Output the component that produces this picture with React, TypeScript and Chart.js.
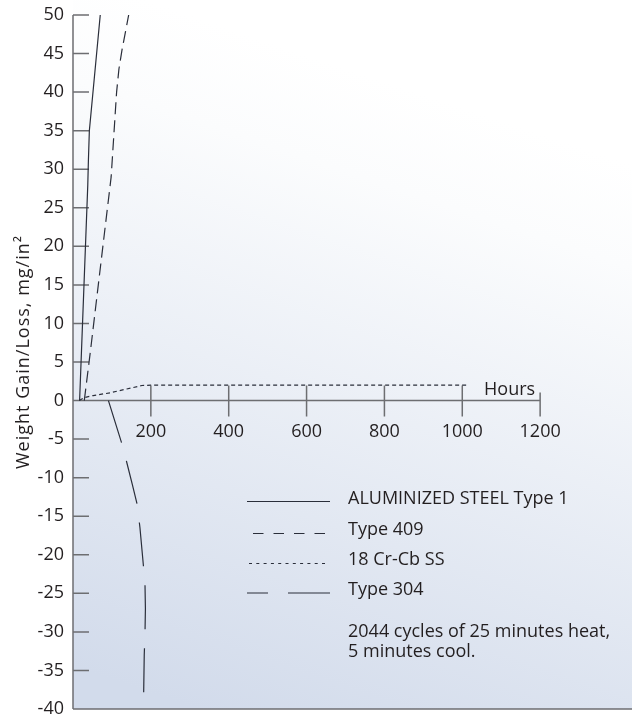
import { useEffect, useRef } from 'react';
import { Chart, registerables } from 'chart.js';

Chart.register(...registerables);

// ---- data (hours, weight change mg/in²) ----
const alumHours = [17, 38, 39.5, 42, 70];
const alumValues = [0, 28, 31, 35, 50];

const t409Hours = [29, 45, 65, 85, 98, 105, 112, 118, 126, 143];
const t409Values = [0, 6.5, 15, 23.5, 29, 34.5, 40, 43, 45.5, 50];

const crHours = [16, 30, 52, 95, 138, 177, 200, 1015];
const crValues = [0, 0.4, 0.65, 1.0, 1.5, 1.95, 2.0, 2.0];

const t304Hours = [91, 125, 138, 152, 165, 172, 181, 185, 186, 185, 183, 181.5];
const t304Values = [0, -5.5, -8, -10.8, -13.5, -16.5, -21.5, -24, -27, -30, -33, -38];

const seriesNames = ['ALUMINIZED STEEL Type 1', 'Type 409', '18 Cr-Cb SS', 'Type 304'];
const noteLines = ['2044 cycles of 25 minutes heat,', '5 minutes cool.'];

const xTickValues = [200, 400, 600, 800, 1000, 1200];
const yMin = -40;
const yMax = 50;
const yStep = 5;
const xMax = 1436;

const yTitle = 'Weight Gain/Loss, mg/in²';
const xTitle = 'Hours';

const FONT = "'Open Sans', 'Noto Sans', sans-serif";
const TEXT = '#231f20';
const AXIS = '#6d6e71';
const LINE = '#2a2e3a';

const pts = (xs: number[], ys: number[]) => xs.map((x, i) => ({ x, y: ys[i] }));

const customPlugin = {
  id: 'custom',
  beforeDraw(chart: any) {
    const { ctx, chartArea } = chart;
    const { left, right, top, bottom } = chartArea;
    ctx.save();
    const g = ctx.createLinearGradient(470, 110, 260, 730);
    g.addColorStop(0, '#ffffff');
    g.addColorStop(0.15, '#fbfcfd');
    g.addColorStop(1, '#d2dbeb');
    ctx.fillStyle = g;
    ctx.fillRect(left, top - 15, right - left, bottom - top + 15);
    ctx.restore();
  },
  beforeDatasetsDraw(chart: any) {
    const { ctx, chartArea, scales } = chart;
    const xs = scales.x;
    const ys = scales.y;
    const y0 = ys.getPixelForValue(0);
    const x0 = xs.getPixelForValue(0);
    ctx.save();
    ctx.strokeStyle = AXIS;
    ctx.lineWidth = 1.5;
    ctx.beginPath();
    ctx.moveTo(chartArea.left, chartArea.top);
    ctx.lineTo(chartArea.left, chartArea.bottom);
    ctx.moveTo(chartArea.left, chartArea.bottom);
    ctx.lineTo(chartArea.right, chartArea.bottom);
    ctx.moveTo(x0, y0);
    ctx.lineTo(xs.getPixelForValue(1200), y0);
    ys.ticks.forEach((t: any) => {
      const py = ys.getPixelForValue(t.value);
      ctx.moveTo(chartArea.left, py);
      ctx.lineTo(chartArea.left + 16, py);
    });
    xs.ticks.forEach((t: any) => {
      const px = xs.getPixelForValue(t.value);
      const up = t.value === 1200 ? 8 : 15;
      ctx.moveTo(px, y0 - up);
      ctx.lineTo(px, y0 + 16);
    });
    ctx.stroke();
    ctx.restore();
  },
  afterDraw(chart: any) {
    const { ctx, scales } = chart;
    const xs = scales.x;
    const ys = scales.y;
    ctx.save();
    ctx.fillStyle = TEXT;
    ctx.font = `18px ${FONT}`;
    ctx.textAlign = 'right';
    ctx.textBaseline = 'alphabetic';
    ctx.fillText(xTitle, xs.getPixelForValue(1200) - 5, ys.getPixelForValue(0) - 6);

    ctx.save();
    ctx.translate(29, 352);
    ctx.rotate(-Math.PI / 2);
    ctx.textAlign = 'center';
    try { (ctx as any).letterSpacing = '1px'; } catch (e) {}
    ctx.fillText(yTitle, 0, 0);
    ctx.restore();

    const lx0 = 247;
    const lx1 = 330;
    const tx = 348;
    const baselines = [503.5, 535, 565, 595];
    const lineY = [501.5, 533.5, 563.5, 593];
    const legendDash: number[][] = [[], [10.5, 10], [3, 4.3], [21, 20, 42]];
    const legendStart = [lx0, 253, 249, lx0];
    const legendEnd = [lx1, 326, 329, lx1];
    ctx.textAlign = 'left';
    seriesNames.forEach((name, i) => {
      ctx.fillText(name, tx, baselines[i]);
      ctx.save();
      ctx.strokeStyle = LINE;
      ctx.lineWidth = 1.2;
      ctx.setLineDash(legendDash[i]);
      ctx.beginPath();
      ctx.moveTo(legendStart[i], lineY[i]);
      ctx.lineTo(legendEnd[i], lineY[i]);
      ctx.stroke();
      ctx.restore();
    });
    noteLines.forEach((line, i) => {
      ctx.fillText(line, tx, 637 + i * 20);
    });
    ctx.restore();
  },
};

export default function App() {
  const ref = useRef<HTMLCanvasElement | null>(null);
  useEffect(() => {
    if (!ref.current) return;
    const common = { borderColor: LINE, borderWidth: 1.2, pointRadius: 0, fill: false, tension: 0 };
    const chart = new Chart(ref.current, {
      type: 'line',
      data: {
        datasets: [
          { ...common, label: seriesNames[0], data: pts(alumHours, alumValues) },
          { ...common, label: seriesNames[1], data: pts(t409Hours, t409Values), borderDash: [12, 6] },
          { ...common, label: seriesNames[2], data: pts(crHours, crValues), borderDash: [4, 3] },
          { ...common, label: seriesNames[3], data: pts(t304Hours, t304Values), borderDash: [44, 19] },
        ] as any,
      },
      options: {
        responsive: false,
        animation: false,
        events: [],
        layout: { padding: { top: 15, right: 9, bottom: 10, left: 0 } },
        plugins: {
          legend: { display: false },
          tooltip: { enabled: false },
          title: { display: false },
        },
        scales: {
          x: {
            type: 'linear',
            min: 0,
            max: xMax,
            position: { y: 0 } as any,
            afterBuildTicks: (s: any) => {
              s.ticks = xTickValues.map((v) => ({ value: v }));
            },
            ticks: {
              stepSize: 200,
              autoSkip: false,
              maxRotation: 0,
              padding: 5,
              color: TEXT,
              font: { family: FONT, size: 18 },
              callback: (v: any) => String(v),
            },
            grid: { display: false, drawTicks: true, tickLength: 16 },
            border: { display: false },
          },
          y: {
            type: 'linear',
            min: yMin,
            max: yMax,
            position: 'left',
            afterFit: (s: any) => {
              s.width = 73;
              s.paddingTop = 0;
              s.paddingBottom = 0;
            },
            ticks: {
              stepSize: yStep,
              autoSkip: false,
              maxTicksLimit: 100,
              padding: 9,
              color: TEXT,
              font: { family: FONT, size: 18 },
              callback: (v: any) => String(v),
            },
            grid: { display: false, drawTicks: false },
            border: { display: false },
          },
        } as any,
      },
      plugins: [customPlugin],
    });
    return () => chart.destroy();
  }, []);
  return (
    <div style={{ position: 'absolute', left: 0, top: 0, width: 641, height: 719 }}>
      <canvas ref={ref} width={641} height={719} style={{ display: 'block' }} />
    </div>
  );
}
